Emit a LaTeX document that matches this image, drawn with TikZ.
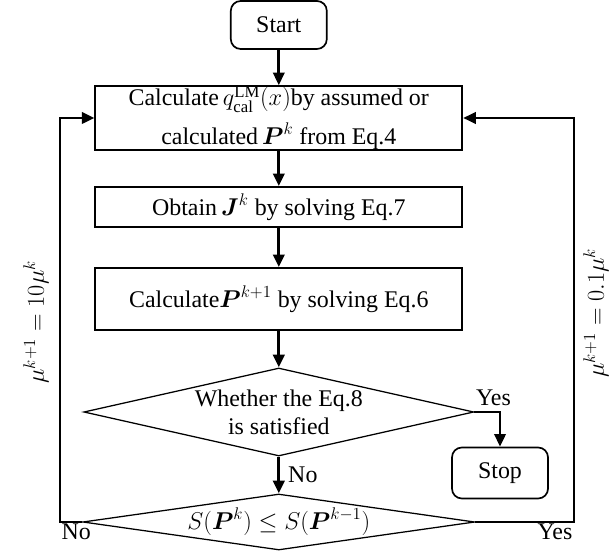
\documentclass[tikz,border=0pt]{standalone}
\usepackage{amsmath}
\usepackage{fontspec}
\setmainfont{Liberation Serif}
\usetikzlibrary{arrows.meta,shapes.geometric}

\begin{document}
\fontsize{17}{20}\selectfont
\begin{tikzpicture}[
    >={Triangle[length=9pt,width=8pt]},
    flow/.style={line width=2.1pt},
    term/.style={draw, rectangle, rounded corners=7pt, line width=1.2pt,
                 minimum width=2.4cm, minimum height=1.2cm},
    procbox/.style={draw, rectangle, line width=1.2pt, align=center,
                    minimum width=9.175cm, inner sep=0pt},
    decide/.style={draw, diamond, line width=0.9pt, align=center, inner sep=0pt}
  ]
    \useasboundingbox (0, 0) rectangle (15.225, 13.825);

    % Start
    \node [term] (start) at (6.97, 13.2) {Start};

    % Model output
    \node [procbox, minimum height=1.55cm] (calc) at (6.97, 10.875)
          {Calculate\,$q^{\mathrm{LM}}_{\mathrm{cal}}(x)$by assumed or\\[0.22cm]
           calculated\,$\boldsymbol{P}^k$ from Eq.4};

    % Jacobian
    \node [procbox, minimum height=1cm] (obtain) at (6.97, 8.65)
          {Obtain\,$\boldsymbol{J}^k$ by solving Eq.7};

    % Update
    \node [procbox, minimum height=1.55cm] (update) at (6.97, 6.35)
          {Calculate$\boldsymbol{P}^{k+1}$ by solving Eq.6};

    % Convergence test
    \node [decide, shape aspect=4.4, minimum width=9.75cm, minimum height=2.2cm]
          (conv) at (6.97, 3.525) {Whether the Eq.8\\is satisfied};

    % Stop
    \node [term, minimum height=1.275cm] (stop) at (12.5, 2.0) {Stop};

    % Objective test
    \node [decide, shape aspect=7, minimum width=9.8cm, minimum height=1.4cm]
          (obj) at (6.97, 0.775) {$S(\boldsymbol{P}^k)\le S(\boldsymbol{P}^{k-1})$};

    \coordinate (lft) at (1.5, 0.775);
    \coordinate (rgt) at (14.35, 0.775);

    % Connections
    \draw [flow, ->] (start) -- (calc);
    \draw [flow, ->] (calc) -- (obtain);
    \draw [flow, ->] (obtain) -- (update);
    \draw [flow, ->] (update) -- (conv);
    \draw [flow, ->] (conv) -- node [right] {No} (obj);
    \draw [flow, ->] (conv.east) -| (stop.north);
    \node [above right, inner sep=1pt, yshift=3pt] (yes1) at (conv.east) {Yes};

    % Damping loops
    \draw [flow, ->] (obj.west) -- (lft) |- (calc.west);
    \draw [flow, ->] (obj.east) -- (rgt) |- (calc.east);
    \node [below right, inner sep=1pt] (no2) at (lft) {No};
    \node [below left, inner sep=1pt] (yes2) at (rgt) {Yes};
    \node [rotate=90] (mu1) at (0.9, 5.775) {$\mu^{k+1}=10\mu^k$};
    \node [rotate=90] (mu2) at (14.9, 6.0) {$\mu^{k+1}=0.1\mu^k$};

\end{tikzpicture}
\end{document}
